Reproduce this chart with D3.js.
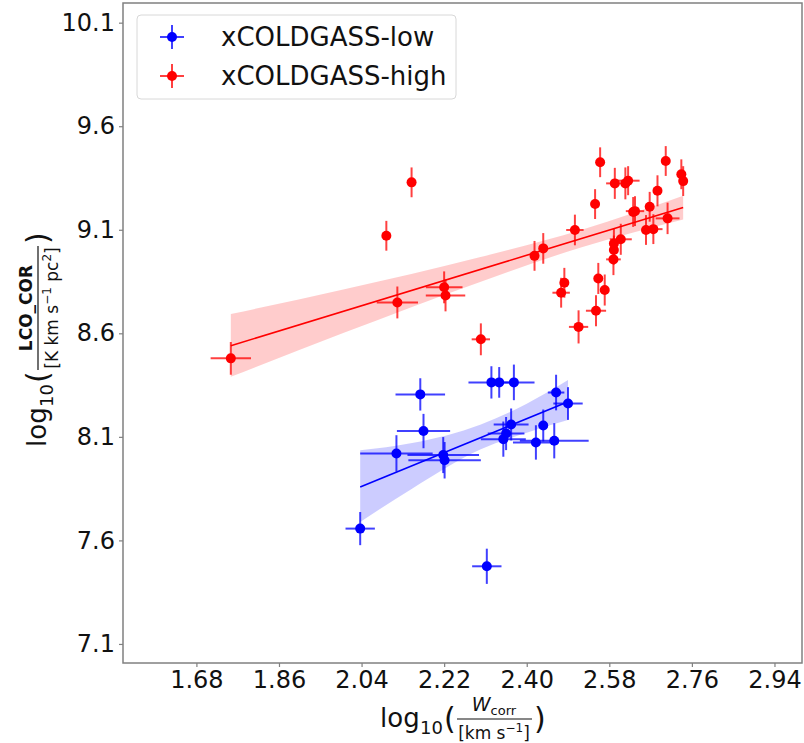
<!DOCTYPE html>
<html>
<head>
<meta charset="utf-8">
<script src="https://cdn.jsdelivr.net/npm/d3@7.9.0/dist/d3.min.js"></script>
<style>
  html, body { margin: 0; padding: 0; background: #fff; }
  svg { display: block; font-family: 'DejaVu Sans', sans-serif; }
</style>
</head>
<body>
<svg id="chart" width="804" height="743"></svg>
<script>
// tick labels
const xTicks = [1.68, 1.86, 2.04, 2.22, 2.40, 2.58, 2.76, 2.94];
const yTicks = [7.1, 7.6, 8.1, 8.6, 9.1, 9.6, 10.1];

// xCOLDGASS-high points
const highX = [1.755, 2.094, 2.149, 2.118, 2.220, 2.223, 2.300, 2.417, 2.436, 2.505, 2.482, 2.475,
  2.513, 2.551, 2.556, 2.570, 2.549, 2.560, 2.589, 2.590, 2.590, 2.605, 2.592, 2.615, 2.621,
  2.632, 2.636, 2.660, 2.676, 2.668, 2.685, 2.707, 2.703, 2.737, 2.741];
const highY = [8.479, 9.071, 9.329, 8.749, 8.822, 8.783, 8.571, 8.974, 9.010, 9.099, 8.844, 8.796,
  8.631, 8.709, 8.865, 8.809, 9.224, 9.426, 8.957, 9.002, 9.034, 9.054, 9.324, 9.324, 9.337,
  9.186, 9.190, 9.099, 9.103, 9.211, 9.288, 9.155, 9.432, 9.368, 9.335];
const highXErr = [0.044, 0.005, 0.005, 0.045, 0.040, 0.043, 0.020, 0.005, 0.005, 0.019, 0.005, 0.019,
  0.021, 0.022, 0.005, 0.005, 0.005, 0.005, 0.016, 0.005, 0.005, 0.024, 0.019, 0.005, 0.025,
  0.005, 0.020, 0.005, 0.020, 0.005, 0.005, 0.026, 0.005, 0.005, 0.005];
const highYErr = [0.079, 0.072, 0.072, 0.077, 0.077, 0.077, 0.077, 0.072, 0.074, 0.074, 0.072, 0.072,
  0.080, 0.075, 0.075, 0.075, 0.072, 0.072, 0.076, 0.070, 0.072, 0.075, 0.075, 0.077, 0.070,
  0.072, 0.072, 0.072, 0.072, 0.072, 0.075, 0.076, 0.072, 0.072, 0.072];

// xCOLDGASS-low points
const lowX = [2.037, 2.313, 2.116, 2.175, 2.168, 2.218, 2.221, 2.323, 2.340, 2.372, 2.349, 2.355,
  2.366, 2.420, 2.436, 2.460, 2.464, 2.490];
const lowY = [7.657, 7.475, 8.020, 8.128, 8.305, 8.012, 7.987, 8.363, 8.363, 8.363, 8.089, 8.116,
  8.160, 8.073, 8.155, 8.081, 8.314, 8.261];
const lowXErr = [0.032, 0.032, 0.079, 0.058, 0.054, 0.078, 0.079, 0.050, 0.005, 0.045, 0.049, 0.040,
  0.038, 0.050, 0.005, 0.075, 0.018, 0.032];
const lowYErr = [0.080, 0.085, 0.088, 0.083, 0.078, 0.087, 0.088, 0.078, 0.074, 0.086, 0.085, 0.080,
  0.077, 0.083, 0.077, 0.085, 0.086, 0.079];

// fitted lines and confidence bands
const highFitX = [1.755, 2.741];
const highFitY = [8.540, 9.208];
const highBandX = [1.755, 2.0, 2.297, 2.52, 2.741];
const highBandLow = [8.390, 8.601, 8.847, 9.016, 9.150];
const highBandHigh = [8.693, 8.811, 8.967, 9.100, 9.264];

const lowFitX = [2.037, 2.490];
const lowFitY = [7.858, 8.269];
const lowBandX = [2.037, 2.15, 2.30, 2.40, 2.490];
const lowBandLow = [7.689, 7.85, 8.04, 8.12, 8.181];
const lowBandHigh = [8.035, 8.07, 8.16, 8.26, 8.374];

const width = 804;
const height = 743;
const margin = { top: 3, right: 2, bottom: 80, left: 123 };

const svg = d3.select('#chart');

const x = d3.scaleLinear().domain([1.52, 3.0]).range([margin.left, width - margin.right]);
const y = d3.scaleLinear().domain([7.008, 10.195]).range([height - margin.bottom, margin.top]);

const zip = (xs, ys, xe, ye) => xs.map((v, i) => ({ x: v, y: ys[i], xe: xe[i], ye: ye[i] }));

const series = [
  {
    name: 'xCOLDGASS-low', color: '#0000ff',
    points: zip(lowX, lowY, lowXErr, lowYErr),
    fit: lowFitX.map((v, i) => [v, lowFitY[i]]),
    band: lowBandX.map((v, i) => ({ x: v, lo: lowBandLow[i], hi: lowBandHigh[i] })),
  },
  {
    name: 'xCOLDGASS-high', color: '#ff0000',
    points: zip(highX, highY, highXErr, highYErr),
    fit: highFitX.map((v, i) => [v, highFitY[i]]),
    band: highBandX.map((v, i) => ({ x: v, lo: highBandLow[i], hi: highBandHigh[i] })),
  },
];

const area = d3.area()
  .x((d) => x(d.x))
  .y0((d) => y(d.lo))
  .y1((d) => y(d.hi))
  .curve(d3.curveMonotoneX);

const line = d3.line()
  .x((d) => x(d[0]))
  .y((d) => y(d[1]));

series.forEach((s) => {
  const g = svg.append('g');

  g.append('path')
    .attr('d', area(s.band))
    .attr('fill', s.color)
    .attr('fill-opacity', 0.2);

  g.append('path')
    .attr('d', line(s.fit))
    .attr('fill', 'none')
    .attr('stroke', s.color)
    .attr('stroke-width', 1.6);

  const pts = g.selectAll('g.pt')
    .data(s.points)
    .join('g')
    .attr('class', 'pt');

  pts.append('line')
    .attr('x1', (d) => x(d.x - d.xe))
    .attr('x2', (d) => x(d.x + d.xe))
    .attr('y1', (d) => y(d.y))
    .attr('y2', (d) => y(d.y))
    .attr('stroke', s.color)
    .attr('stroke-opacity', 0.75)
    .attr('stroke-width', 2);

  pts.append('line')
    .attr('x1', (d) => x(d.x))
    .attr('x2', (d) => x(d.x))
    .attr('y1', (d) => y(d.y - d.ye))
    .attr('y2', (d) => y(d.y + d.ye))
    .attr('stroke', s.color)
    .attr('stroke-opacity', 0.75)
    .attr('stroke-width', 2);

  pts.append('circle')
    .attr('cx', (d) => x(d.x))
    .attr('cy', (d) => y(d.y))
    .attr('r', 5)
    .attr('fill', s.color);
});

// frame
svg.append('rect')
  .attr('x', margin.left)
  .attr('y', margin.top)
  .attr('width', width - margin.left - margin.right)
  .attr('height', height - margin.top - margin.bottom)
  .attr('fill', 'none')
  .attr('stroke', '#808080')
  .attr('stroke-width', 1.5);

const xAxis = svg.append('g')
  .attr('transform', `translate(0,${height - margin.bottom})`)
  .call(d3.axisBottom(x).tickValues(xTicks).tickFormat(d3.format('.2f')).tickSize(4).tickPadding(4));

const yAxis = svg.append('g')
  .attr('transform', `translate(${margin.left},0)`)
  .call(d3.axisLeft(y).tickValues(yTicks).tickFormat(d3.format('.1f')).tickSize(4).tickPadding(4));

[xAxis, yAxis].forEach((a) => {
  a.select('.domain').remove();
  a.selectAll('.tick line').attr('stroke', '#808080').attr('stroke-width', 1.2);
  a.selectAll('.tick text')
    .attr('font-family', 'DejaVu Sans')
    .attr('font-size', 24)
    .attr('fill', '#111');
});

// x label: log10( Wcorr / [km s^-1] )
const xl = svg.append('g').attr('transform', 'translate(380,727)').attr('fill', '#111');
xl.append('text').attr('x', 0).attr('y', 0).attr('font-size', 26).text('log');
xl.append('text').attr('x', 40).attr('y', 7).attr('font-size', 18).text('10');
xl.append('text').attr('x', 64).attr('y', 2).attr('font-size', 30).text('(');
const xnum = xl.append('text').attr('x', 114).attr('y', -16).attr('font-size', 19).attr('text-anchor', 'middle');
xnum.append('tspan').attr('font-style', 'italic').text('W');
xnum.append('tspan').attr('font-size', 13).attr('dy', 4).text('corr');
xl.append('line').attr('x1', 77).attr('x2', 152).attr('y1', -8).attr('y2', -8)
  .attr('stroke', '#111').attr('stroke-width', 1.2);
const xden = xl.append('text').attr('x', 114).attr('y', 12).attr('font-size', 17).attr('text-anchor', 'middle');
xden.append('tspan').text('[km s');
xden.append('tspan').attr('font-size', 12).attr('dy', -7).text('−1');
xden.append('tspan').attr('dy', 7).text(']');
xl.append('text').attr('x', 154).attr('y', 2).attr('font-size', 30).text(')');

// y label: log10( LCO_COR / [K km s^-1 pc^2] ), rotated
const yl = svg.append('g').attr('transform', 'translate(46,447) rotate(-90)').attr('fill', '#111');
yl.append('text').attr('x', 0).attr('y', 0).attr('font-size', 26).text('log');
yl.append('text').attr('x', 40).attr('y', 7).attr('font-size', 18).text('10');
yl.append('text').attr('x', 64).attr('y', 2).attr('font-size', 30).text('(');
yl.append('text').attr('x', 139).attr('y', -14).attr('font-size', 17).attr('font-weight', 'bold')
  .attr('text-anchor', 'middle').text('LCO_COR');
yl.append('line').attr('x1', 77).attr('x2', 201).attr('y1', -8).attr('y2', -8)
  .attr('stroke', '#111').attr('stroke-width', 1.2);
const yden = yl.append('text').attr('x', 139).attr('y', 12).attr('font-size', 17).attr('text-anchor', 'middle');
yden.append('tspan').text('[K km s');
yden.append('tspan').attr('font-size', 12).attr('dy', -7).text('−1');
yden.append('tspan').attr('dy', 7).text(' pc');
yden.append('tspan').attr('font-size', 12).attr('dy', -7).text('2');
yden.append('tspan').attr('dy', 7).text(']');
yl.append('text').attr('x', 203).attr('y', 2).attr('font-size', 30).text(')');

// legend
const legend = svg.append('g');
legend.append('rect')
  .attr('x', 137).attr('y', 15).attr('width', 319).attr('height', 84).attr('rx', 4)
  .attr('fill', '#fff').attr('fill-opacity', 0.8)
  .attr('stroke', '#d8d8d8').attr('stroke-width', 1);

series.forEach((s, i) => {
  const cy = 37 + i * 39;
  const item = legend.append('g');
  item.append('line').attr('x1', 160).attr('x2', 184).attr('y1', cy).attr('y2', cy)
    .attr('stroke', s.color).attr('stroke-opacity', 0.75).attr('stroke-width', 2);
  item.append('line').attr('x1', 172).attr('x2', 172).attr('y1', cy - 12).attr('y2', cy + 12)
    .attr('stroke', s.color).attr('stroke-opacity', 0.75).attr('stroke-width', 2);
  item.append('circle').attr('cx', 172).attr('cy', cy).attr('r', 5).attr('fill', s.color);
  item.append('text').attr('x', 221).attr('y', cy + 9).attr('font-size', 26).attr('fill', '#111').text(s.name);
});
</script>
</body>
</html>
